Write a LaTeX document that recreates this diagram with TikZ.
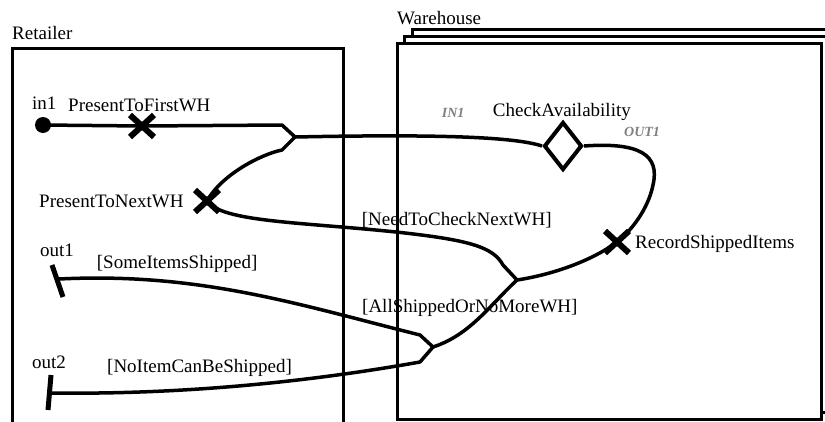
\documentclass[tikz,border=0pt]{standalone}
\usepackage{fontspec}
\setmainfont{Liberation Serif}
\usetikzlibrary{shapes.geometric,shapes.misc}
\begin{document}
\begin{tikzpicture}[x=1pt,y=-1pt,
  lbl/.style={anchor=base west,inner sep=0pt,font=\fontsize{19}{22}\selectfont},
  port/.style={anchor=base west,inner sep=0pt,text=gray,font=\fontsize{14}{16}\selectfont\bfseries\itshape},
  boxline/.style={line width=3pt},
  conn/.style={line width=3.5pt,line join=round},
  xmark/.style={cross out,draw,line width=6pt,minimum width=18pt,minimum height=16pt,inner sep=0pt},
  bar/.style={line width=5pt},
  decision/.style={diamond,draw,line width=4pt,minimum width=38pt,minimum height=48pt,inner sep=0pt,aspect=0.8}]
\useasboundingbox (0,0) rectangle (825,421);
\clip (0,0) rectangle (825,421);
% containers
\draw[boxline] (12,48) rectangle (343,440);
\draw[boxline,fill=white] (412,29) rectangle (840,405);
\draw[boxline,fill=white] (404,36) rectangle (829,412);
\draw[boxline,fill=white] (397,43) rectangle (821,419);
\node[lbl] (retailer) at (12,39) {Retailer};
\node[lbl] (warehouse) at (397,24) {Warehouse};
% nodes
\node[circle,fill,inner sep=0pt,minimum size=16pt] (in1) at (43,125) {};
\node[lbl] (in1lbl) at (32,109) {in1};
\node[xmark] (x1) at (142,126) {};
\node[lbl] (x1lbl) at (68,111.7) {PresentToFirstWH};
\node[xmark] (x2) at (207,201) {};
\node[lbl] (x2lbl) at (39,207.3) {PresentToNextWH};
\node[decision] (ca) at (563,146) {};
\node[lbl] (calbl) at (492.7,116) {CheckAvailability};
\node[port] (inport) at (441.7,117.3) {IN1};
\node[port] (outport) at (624,136) {OUT1};
\node[xmark] (x3) at (617,242) {};
\node[lbl] (x3lbl) at (635,248.3) {RecordShippedItems};
\node[lbl] (g1) at (361.7,225.7) {[NeedToCheckNextWH]};
\node[lbl] (g2) at (96.7,268.3) {[SomeItemsShipped]};
\node[lbl] (g3) at (362,312.7) {[AllShippedOrNoMoreWH]};
\node[lbl] (g4) at (107,372.7) {[NoItemCanBeShipped]};
\node[lbl] (o1lbl) at (40,256.7) {out1};
\node[lbl] (o2lbl) at (32,368.3) {out2};
% exits
\coordinate (o1a) at (52,265); \coordinate (o1b) at (63,297);
\coordinate (o1) at (59,279);
\coordinate (o2a) at (51,375); \coordinate (o2b) at (48,410);
\coordinate (o2) at (50,393);
\draw[bar] (o1a) -- (o1b);
\draw[bar] (o2a) -- (o2b);
% junctions
\coordinate (j1) at (295,137);
\coordinate (j1u) at (282,125);
\coordinate (j1d) at (282,150);
\coordinate (j2) at (517,280);
\coordinate (j2u) at (503,265);
\coordinate (j3) at (433,347);
\coordinate (j3u) at (420,335);
\coordinate (j3d) at (420,362);
% connectors
\draw[conn] (in1.center) -- (x1.center) -- (j1u) -- (j1);
\draw[conn] (j1) .. controls (440,134) and (515,137) .. (ca.west);
\draw[conn] (j1) -- (j1d) .. controls (262,154) and (222,174) .. (x2.center);
\draw[conn] (ca.east) .. controls (640,142) and (660,155) .. (653,185)
  .. controls (648,210) and (630,232) .. (x3.center);
\draw[conn] (x3.center) .. controls (590,262) and (550,275) .. (j2);
\draw[conn] (x2.center) .. controls (222,222) and (300,222) .. (396,232)
  .. controls (470,240) and (493,247) .. (j2u) -- (j2);
\draw[conn] (j2) .. controls (490,305) and (470,335) .. (j3);
\draw[conn] (j3) -- (j3u) .. controls (300,305) and (200,272) .. (o1);
\draw[conn] (j3) -- (j3d) .. controls (330,378) and (200,395) .. (o2);
\end{tikzpicture}
\end{document}
